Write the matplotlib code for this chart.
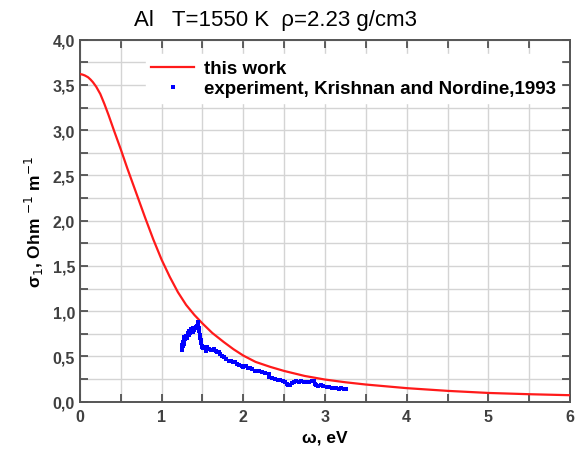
import matplotlib.pyplot as plt
from matplotlib.ticker import MultipleLocator, FuncFormatter

plt.rcParams['font.family'] = ['Liberation Sans', 'DejaVu Sans']

# calculated conductivity ("this work")
omega_calc = [0.0, 0.03, 0.06, 0.1, 0.13, 0.16, 0.2, 0.25, 0.3, 0.35, 0.42, 0.5, 0.58,
              0.68, 0.8, 0.9, 1.0, 1.1, 1.2, 1.3, 1.4, 1.5, 1.62, 1.76, 1.88, 2.0,
              2.15, 2.33, 2.5, 2.75, 3.0, 3.25, 3.5, 4.0, 4.5, 5.0, 5.5, 6.0]
sigma_calc = [3.62, 3.615, 3.605, 3.585, 3.56, 3.53, 3.48, 3.40, 3.29, 3.17, 2.99, 2.79,
              2.58, 2.33, 2.03, 1.79, 1.57, 1.38, 1.21, 1.07, 0.96, 0.865, 0.76, 0.66,
              0.58, 0.51, 0.44, 0.385, 0.34, 0.285, 0.245, 0.215, 0.19, 0.15, 0.12,
              0.097, 0.083, 0.072]

# experiment, Krishnan and Nordine 1993
omega_exp = [1.25, 1.25, 1.25, 1.26, 1.26, 1.27, 1.28, 1.28, 1.29, 1.30, 1.31, 1.32,
             1.33, 1.34, 1.35, 1.36, 1.37, 1.38, 1.39, 1.40, 1.41, 1.42, 1.43, 1.44,
             1.45, 1.45, 1.46, 1.46, 1.47, 1.47, 1.48, 1.48, 1.49, 1.50, 1.51, 1.52,
             1.54, 1.56, 1.58, 1.60, 1.62, 1.64, 1.66, 1.68, 1.70, 1.72, 1.74, 1.76,
             1.79, 1.82, 1.85, 1.88, 1.90, 1.92, 1.95, 1.98, 2.00, 2.03, 2.06, 2.08,
             2.11, 2.14, 2.16, 2.19, 2.23, 2.27, 2.31, 2.32, 2.35, 2.39, 2.42, 2.45,
             2.48, 2.51, 2.53, 2.55, 2.57, 2.59, 2.62, 2.65, 2.68, 2.71, 2.74, 2.77,
             2.80, 2.84, 2.87, 2.88, 2.89, 2.92, 2.95, 2.98, 3.02, 3.05, 3.08, 3.11,
             3.14, 3.17, 3.20, 3.23, 3.26]
sigma_exp = [0.57, 0.60, 0.63, 0.62, 0.66, 0.68, 0.64, 0.71, 0.69, 0.73, 0.70, 0.76,
             0.74, 0.78, 0.76, 0.80, 0.78, 0.77, 0.81, 0.79, 0.82, 0.83, 0.84, 0.86,
             0.88, 0.85, 0.82, 0.78, 0.74, 0.70, 0.68, 0.65, 0.62, 0.61, 0.59, 0.60,
             0.565, 0.60, 0.58, 0.57, 0.575, 0.58, 0.56, 0.545, 0.55, 0.53, 0.51, 0.49,
             0.475, 0.455, 0.45, 0.435, 0.44, 0.415, 0.41, 0.395, 0.38, 0.39, 0.375, 0.37,
             0.36, 0.345, 0.34, 0.335, 0.325, 0.315, 0.305, 0.27, 0.265, 0.25, 0.245, 0.24,
             0.225, 0.215, 0.20, 0.18, 0.19, 0.205, 0.215, 0.225, 0.22, 0.23, 0.22, 0.215,
             0.22, 0.225, 0.23, 0.20, 0.18, 0.175, 0.18, 0.17, 0.165, 0.16, 0.15, 0.155,
             0.155, 0.145, 0.15, 0.145, 0.14]

fig = plt.figure(figsize=(5.83, 4.52), dpi=100)
ax = fig.add_axes([0.137, 0.109, 0.841, 0.801])

ax.plot(omega_calc, sigma_calc, color='#ff1a1a', lw=1.6, label='this work', zorder=3)
ax.plot(omega_exp, sigma_exp, 's', color='#0000ff', ms=2.8, mew=0,
        label='experiment, Krishnan and Nordine,1993', zorder=4)

ax.set_xlim(0, 6)
ax.set_ylim(0, 4)
ax.xaxis.set_major_locator(MultipleLocator(1))
ax.xaxis.set_minor_locator(MultipleLocator(0.5))
ax.yaxis.set_major_locator(MultipleLocator(0.5))
ax.yaxis.set_minor_locator(MultipleLocator(0.25))
ax.yaxis.set_major_formatter(FuncFormatter(lambda v, p: f'{v:.1f}'.replace('.', ',')))
ax.grid(True, which='both', color='#d4d4d4', lw=1.0, zorder=0)
ax.set_axisbelow(True)

ax.tick_params(which='both', direction='in', top=True, right=True, colors='#444444',
               labelcolor='#404040', width=1.2, length=6)
ax.tick_params(axis='x', pad=5)
for lab in ax.get_xticklabels() + ax.get_yticklabels():
    lab.set_fontweight('bold')
    lab.set_fontsize(11.5)
for s in ax.spines.values():
    s.set_color('#555555')
    s.set_linewidth(1.4)

ax.set_xlabel('ω, eV', fontsize=12.5, fontweight='bold', labelpad=4)
ax.set_ylabel(r'σ$_1$, Ohm $^{-1}$ m$^{-1}$', fontsize=12.5, fontweight='bold', labelpad=5)
fig.text(0.473, 0.955, 'Al   T=1550 K  ρ=2.23 g/cm3', ha='center', va='center', fontsize=16)

leg = ax.legend(loc='upper left', bbox_to_anchor=(0.115, 0.985), frameon=True,
                fancybox=False, edgecolor='white', framealpha=1.0, fontsize=13.5,
                handlelength=2.3, handletextpad=0.5, markerscale=0.8, borderpad=0.3,
                labelspacing=0.15)
for t in leg.get_texts():
    t.set_fontweight('bold')

fig.savefig('out.png', dpi=100)
